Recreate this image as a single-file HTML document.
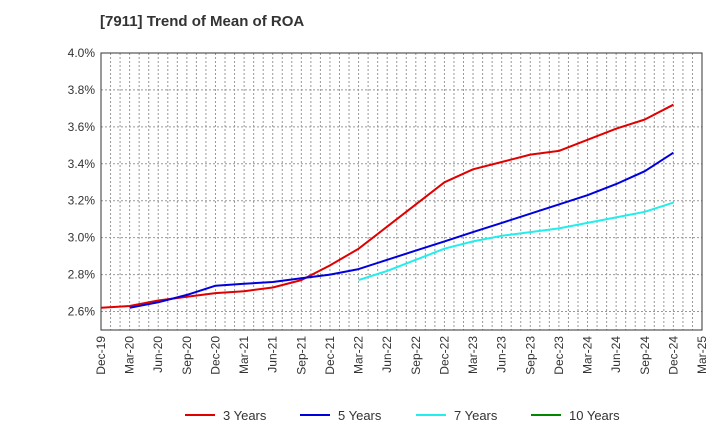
<!DOCTYPE html>
<html><head><meta charset="utf-8"><style>
body{margin:0;background:#fff;font-family:"Liberation Sans",sans-serif;}
svg text{font-family:"Liberation Sans",sans-serif;}
</style></head><body>
<svg width="720" height="440" xmlns="http://www.w3.org/2000/svg">
<text x="100" y="26" font-size="15" font-weight="bold" fill="#333">[7911]  Trend of Mean of ROA</text>
<g id="grid"></g><g id="axes"></g><g id="series"></g><g id="legend"></g>
</svg>
<script>
const xLabels=["Dec-19","Mar-20","Jun-20","Sep-20","Dec-20","Mar-21","Jun-21","Sep-21","Dec-21","Mar-22","Jun-22","Sep-22","Dec-22","Mar-23","Jun-23","Sep-23","Dec-23","Mar-24","Jun-24","Sep-24","Dec-24","Mar-25"];
const yTicks=[2.6,2.8,3.0,3.2,3.4,3.6,3.8,4.0];
const names=["3 Years","5 Years","7 Years","10 Years"];
const colors=["#e00000","#0000dd","#22eeee","#008800"];
const starts=[0,1,9,0];
const s3=[2.62,2.63,2.66,2.68,2.70,2.71,2.73,2.77,2.85,2.94,3.06,3.18,3.30,3.37,3.41,3.45,3.47,3.53,3.59,3.64,3.72];
const s5=[2.62,2.65,2.69,2.74,2.75,2.76,2.78,2.80,2.83,2.88,2.93,2.98,3.03,3.08,3.13,3.18,3.23,3.29,3.36,3.46];
const s7=[2.77,2.82,2.88,2.94,2.98,3.01,3.03,3.05,3.08,3.11,3.14,3.19];
const s10=[];
const seriesData=[s3,s5,s7,s10];
const L=101,R=702,T=53,B=330,yMin=2.5,yMax=4.0;
const nQ=xLabels.length-1;
const xs=q=>L+(R-L)*q/nQ;
const ys=v=>B-(B-T)*(v-yMin)/(yMax-yMin);
const NS="http://www.w3.org/2000/svg";
function mk(tag,attrs,parent){const e=document.createElementNS(NS,tag);for(const k in attrs)e.setAttribute(k,attrs[k]);parent.appendChild(e);return e;}
const grid=document.getElementById('grid'),axes=document.getElementById('axes'),ser=document.getElementById('series'),leg=document.getElementById('legend');
for(let m=1;m<nQ*3;m++){const x=xs(m/3);const l=mk('line',{x1:x,x2:x,y1:T,y2:B,stroke:'#999','stroke-dasharray':'2,2','stroke-width':1},grid);

}
yTicks.forEach(v=>{const y=ys(v);const l=mk('line',{x1:L,x2:R,y1:y,y2:y,stroke:'#999','stroke-dasharray':'2,2','stroke-width':1},grid);


const t=mk('text',{x:L-6,y:y+4,'text-anchor':'end','font-size':12,fill:'#333'},axes);t.textContent=v.toFixed(1)+'%';

});
const frame=mk('rect',{x:L,y:T,width:R-L,height:B-T,fill:'none',stroke:'#333','stroke-width':1},axes);


xLabels.forEach((lab,i)=>{const x=xs(i);const t=mk('text',{x:x+4,y:B+6,'text-anchor':'end','font-size':12,fill:'#333',transform:`rotate(-90 ${x+4} ${B+6})`},axes);t.textContent=lab;

});
seriesData.forEach((d,si)=>{if(!d.length)return;const pts=d.map((v,i)=>xs(starts[si]+i).toFixed(1)+','+ys(v).toFixed(1)).join(' ');
const p=mk('polyline',{points:pts,fill:'none',stroke:colors[si],'stroke-width':2,'stroke-linejoin':'round'},ser);

});
const lx=[185,300,416,531];
names.forEach((n,i)=>{const g=mk('g',{},leg);


mk('line',{x1:lx[i],x2:lx[i]+30,y1:415,y2:415,stroke:colors[i],'stroke-width':2},g);
const t=mk('text',{x:lx[i]+38,y:420,'font-size':13,fill:'#333'},g);t.textContent=n;});
</script>
</body></html>
